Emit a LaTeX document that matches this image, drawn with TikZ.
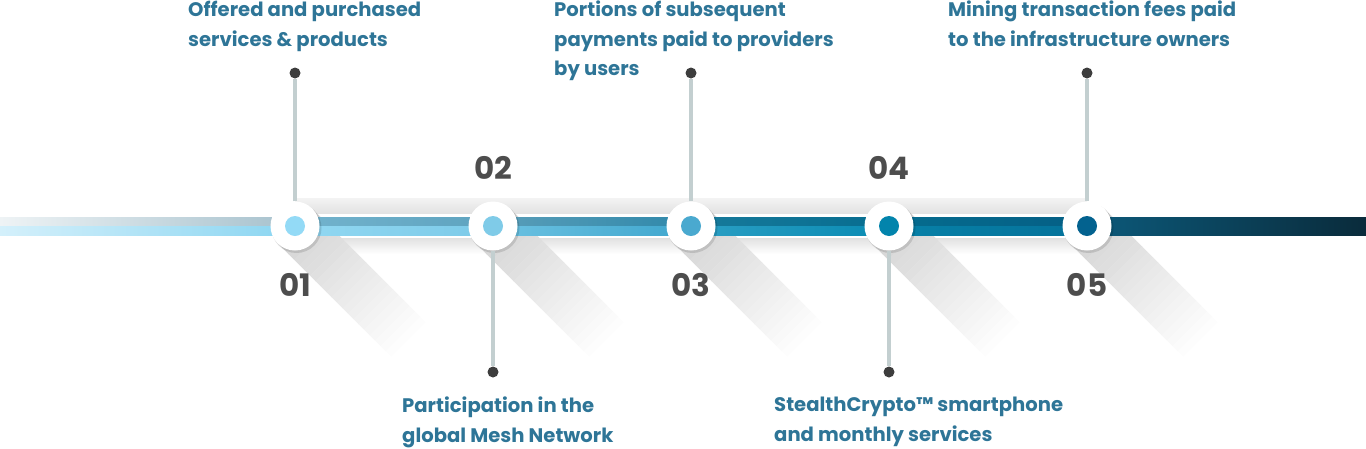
\documentclass[tikz,border=0pt]{standalone}
\usepackage{fontspec}
\setmainfont{Poppins}
\usetikzlibrary{positioning}

% dot colours
\definecolor{dot1}{HTML}{93DAF6}
\definecolor{dot2}{HTML}{7FCBE8}
\definecolor{dot3}{HTML}{4AA9CF}
\definecolor{dot4}{HTML}{0284AC}
\definecolor{dot5}{HTML}{03628F}
% bar colours, upper band
\definecolor{topa0}{HTML}{EEF3F5}\definecolor{topb0}{HTML}{A6C1CD}
\definecolor{topa1}{HTML}{73B3CD}\definecolor{topb1}{HTML}{5EA3BF}
\definecolor{topa2}{HTML}{5A9EB9}\definecolor{topb2}{HTML}{2F88AA}
\definecolor{topa3}{HTML}{177A9B}\definecolor{topb3}{HTML}{076D90}
\definecolor{topa4}{HTML}{056C8F}\definecolor{topb4}{HTML}{055F85}
\definecolor{topa5}{HTML}{0C5A7B}\definecolor{topb5}{HTML}{0A2B3B}
% bar colours, lower band
\definecolor{lowa0}{HTML}{D4F0FB}\definecolor{lowb0}{HTML}{8AD5F1}
\definecolor{lowa1}{HTML}{92D8F2}\definecolor{lowb1}{HTML}{7CCAE8}
\definecolor{lowa2}{HTML}{6CC2E2}\definecolor{lowb2}{HTML}{3FA6CD}
\definecolor{lowa3}{HTML}{2B9FC4}\definecolor{lowb3}{HTML}{0A8BB3}
\definecolor{lowa4}{HTML}{0781A8}\definecolor{lowb4}{HTML}{05729A}
\definecolor{lowa5}{HTML}{0C5A7B}\definecolor{lowb5}{HTML}{0A2B3B}
% others
\definecolor{captionblue}{HTML}{2E7597}
\definecolor{numgray}{HTML}{4D4D4D}
\definecolor{stemgray}{HTML}{C3CFD0}
\definecolor{pindark}{HTML}{3D3D3D}
\definecolor{shadegray}{HTML}{D4D4D4}
\definecolor{bandgray}{HTML}{E2E2E2}
\definecolor{bandlight}{HTML}{F3F3F3}

\begin{document}
\begin{tikzpicture} [
    x = 1pt, y = -1pt,
    ring/.style = {circle, fill = white, minimum size = 49pt, inner sep = 0pt},
    core/.style = {circle, minimum size = 20pt, inner sep = 0pt},
    pin/.style = {circle, fill = pindark, minimum size = 11pt, inner sep = 0pt},
    stem/.style = {line width = 4pt, draw = stemgray},
    caption/.style = {anchor = north west, inner sep = 0pt, align = left,
        text = captionblue, font = \bfseries\fontsize{19.6}{29.5}\selectfont},
    stepnum/.style = {inner sep = 0pt, text = numgray,
        font = \bfseries\fontsize{31}{31}\selectfont}
]
\useasboundingbox (0,0) rectangle (1366,448);

% grey band round the bar
\fill [top color = bandlight, bottom color = bandgray] (295,198) rectangle (1087,213.5);
\fill [top color = bandgray, bottom color = white] (295,238.5) rectangle (1087,254);

% long shadows, in strips that fade out
\foreach \x in {295,493,691,889,1087} {
    \foreach \s in {0,...,20} {
        \pgfmathtruncatemacro{\pc}{100-100*\s/21}
        \fill [shadegray!\pc!white]
            (\x-17.3+\s*5.4,243.3+\s*5.4) -- ++(5.6,5.6) -- ++(34.6,-34.6) -- ++(-5.6,-5.6) -- cycle;
    }
}

% bar
\foreach \xa/\xb/\n in {0/295/0, 295/493/1, 493/691/2, 691/889/3, 889/1087/4, 1087/1366/5} {
    \fill [left color = topa\n, right color = topb\n] (\xa,217) rectangle (\xb,226.3);
    \fill [left color = lowa\n, right color = lowb\n] (\xa,226) rectangle (\xb,235);
}

% circles
\foreach \i/\x in {1/295,2/493,3/691,4/889,5/1087} {
    \fill [black, opacity = 0.12] (\x+1.5,226+2) circle (25);
    \node (c\i) at (\x,226) [ring] {};
    \node (k\i) at (c\i) [core, fill = dot\i] {};
}

% pins and stems
\node (p1) at (295,73) [pin] {};
\node (p2) at (493,372) [pin] {};
\node (p3) at (691,73) [pin] {};
\node (p4) at (889,372) [pin] {};
\node (p5) at (1087,73) [pin] {};
\foreach \i in {1,...,5}
    \draw [stem] (c\i) -- (p\i);

% step numbers
\node (n1) [stepnum, below = 22pt of c1] {01};
\node (n2) [stepnum, above = 22pt of c2] {02};
\node (n3) [stepnum, below = 22pt of c3] {03};
\node (n4) [stepnum, above = 22pt of c4] {04};
\node (n5) [stepnum, below = 22pt of c5] {05};

% captions
\node (t1) at (188,1) [caption] {Offered and purchased\\services \& products};
\node (t2) at (402,397) [caption] {Participation in the\\global Mesh Network};
\node (t3) at (554,1) [caption] {Portions of subsequent\\payments paid to providers\\by users};
\node (t4) at (774,397) [caption] {StealthCrypto™ smartphone\\and monthly services};
\node (t5) at (948,1) [caption] {Mining transaction fees paid\\to the infrastructure owners};

\end{tikzpicture}
\end{document}
